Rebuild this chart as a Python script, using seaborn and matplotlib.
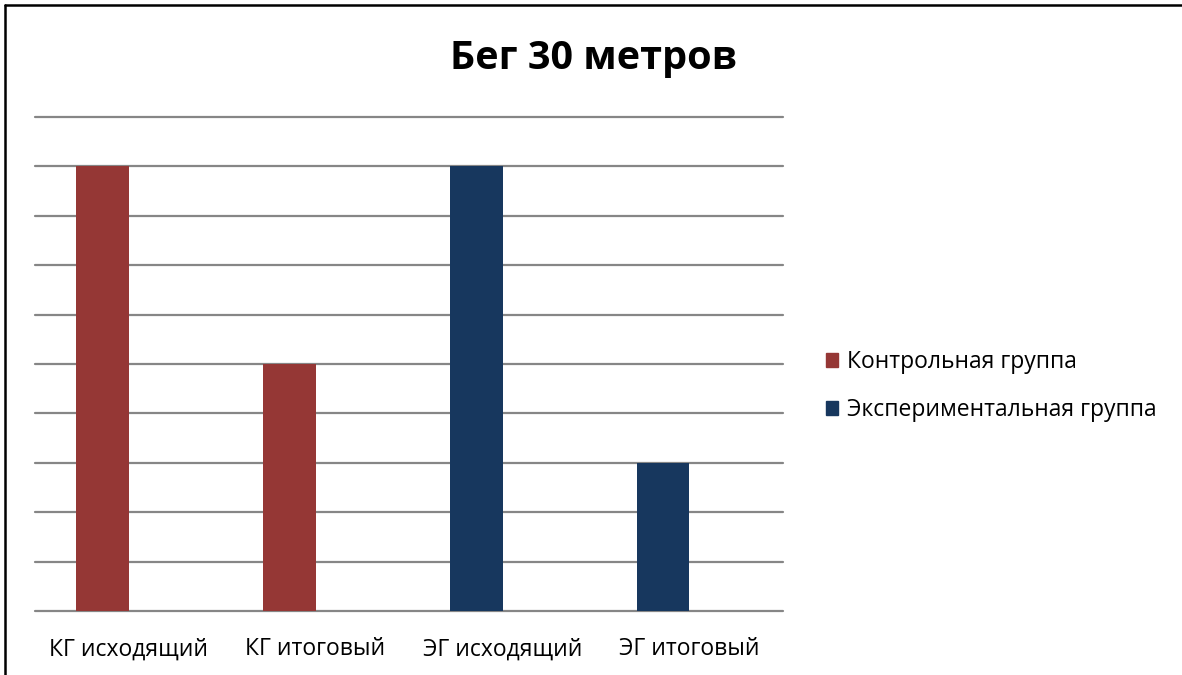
import pandas as pd
import seaborn as sns
import matplotlib.pyplot as plt
from matplotlib.lines import Line2D
from matplotlib.patches import Patch

# data
categories = ['КГ исходящий', 'КГ итоговый', 'ЭГ исходящий', 'ЭГ итоговый']
values = [9, 5, 9, 3]
groups = ['Контрольная группа', 'Контрольная группа',
          'Экспериментальная группа', 'Экспериментальная группа']
colors = {'Контрольная группа': '#953735', 'Экспериментальная группа': '#17375E'}

df = pd.DataFrame({'cat': categories, 'val': values, 'grp': groups})

sns.set_style('white')
plt.rcParams['font.family'] = ['Open Sans', 'DejaVu Sans']
plt.rcParams['text.color'] = 'black'
plt.rcParams['xtick.color'] = 'black'

fig = plt.figure(figsize=(11.82, 6.75), dpi=100)
ax = fig.add_axes([35 / 1182, 1 - 611 / 675, 748 / 1182, 494 / 675])

bw = 0.28
sns.barplot(data=df, x='cat', y='val', hue='grp', palette=colors,
            dodge=False, width=bw, ax=ax, legend=False, saturation=1,
            edgecolor='none', linewidth=0)
# bars sit in the left half of each category slot
for p in ax.patches:
    p.set_x(p.get_x() - bw / 2)

ax.set_ylim(0, 10)
ax.set_xlim(-0.5, 3.5)
ax.set_yticks(range(0, 11))
ax.set_yticklabels([])
ax.yaxis.grid(True, color='#868686', lw=1.6)
ax.set_axisbelow(True)
for s in ax.spines.values():
    s.set_visible(False)
ax.tick_params(axis='x', length=0, labelsize=16.5, pad=19, labelcolor='black')
ax.tick_params(axis='y', length=0)
ax.set_xlabel('')
ax.set_ylabel('')
for gl in ax.get_ygridlines():
    gl.set_clip_on(False)

fig.text(593 / 1182, 1 - 58 / 675, 'Бег 30 метров', ha='center', va='center',
         fontsize=28.5, fontweight='bold', color='black')

handles = [Patch(color=c, label=k) for k, c in colors.items()]
fig.legend(handles=handles, loc='center left', bbox_to_anchor=(805 / 1182, 1 - 386 / 675),
           frameon=False, fontsize=16.5, handlelength=0.55, handleheight=0.55,
           handletextpad=0.4, labelspacing=1.05, labelcolor='black')

# outer chart border (cropped at right and bottom)
fig.add_artist(Line2D([5 / 1182, 1], [1 - 5 / 675, 1 - 5 / 675], color='black', lw=1.8,
                      transform=fig.transFigure))
fig.add_artist(Line2D([5 / 1182, 5 / 1182], [0, 1 - 5 / 675], color='black', lw=1.8,
                      transform=fig.transFigure))

fig.savefig('out.png', dpi=100)
